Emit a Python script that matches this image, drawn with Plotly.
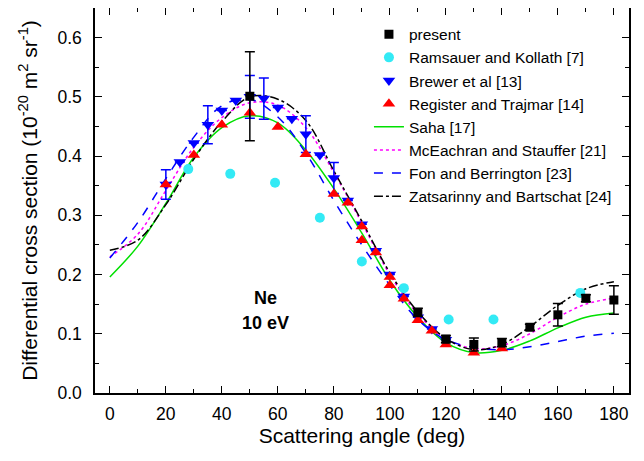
import plotly.graph_objects as go

# ---- data ----
present_x = [50, 110, 120, 130, 140, 150, 160, 170, 180]
present_y = [0.501, 0.136, 0.091, 0.082, 0.085, 0.111, 0.132, 0.160, 0.157]
present_err = [0.075, 0.007, 0.006, 0.011, 0.007, 0.005, 0.019, 0.006, 0.024]

ramsauer_x = [28, 43, 59, 75, 90, 105, 121, 137, 168]
ramsauer_y = [0.378, 0.370, 0.355, 0.296, 0.222, 0.177, 0.124, 0.124, 0.169]

brewer_x = [20, 25, 30, 35, 40, 45, 50, 55, 60, 65, 70, 75, 80, 85, 90, 95, 100, 105, 110, 115, 120]
brewer_y = [0.352, 0.390, 0.422, 0.453, 0.477, 0.494, 0.500, 0.497, 0.482, 0.463, 0.437,
            0.402, 0.363, 0.325, 0.285, 0.240, 0.200, 0.163, 0.128, 0.108, 0.090]
brewer_err = [0.025, None, None, 0.032, None, None, 0.036, 0.035, None, None, 0.031,
              None, 0.026, None, None, None, None, None, None, None, None]

register_x = [20, 30, 40, 50, 60, 70, 80, 85, 90, 90, 95, 100, 100, 105, 110, 115, 120, 130, 140]
register_y = [0.352, 0.402, 0.453, 0.473, 0.449, 0.403, 0.336, 0.321, 0.281, 0.258, 0.237,
              0.196, 0.182, 0.159, 0.123, 0.105, 0.082, 0.068, 0.075]

theory_x = [0, 10, 20, 30, 40, 50, 60, 70, 80, 90, 100, 110, 120, 130, 140, 150, 160, 170, 180]
saha_y = [0.196, 0.248, 0.320, 0.398, 0.448, 0.468, 0.456, 0.410, 0.345, 0.270, 0.190, 0.128,
          0.085, 0.068, 0.072, 0.088, 0.110, 0.128, 0.135]
mceachran_y = [0.230, 0.268, 0.342, 0.415, 0.465, 0.490, 0.486, 0.448, 0.372, 0.287, 0.200, 0.133,
               0.092, 0.075, 0.080, 0.100, 0.128, 0.150, 0.160]
fon_y = [0.228, 0.288, 0.362, 0.432, 0.485, 0.496, 0.466, 0.405, 0.325, 0.250, 0.182, 0.124,
         0.090, 0.077, 0.073, 0.078, 0.087, 0.096, 0.101]
zats_y = [0.241, 0.258, 0.318, 0.395, 0.458, 0.500, 0.496, 0.460, 0.375, 0.290, 0.203, 0.137,
          0.092, 0.073, 0.082, 0.112, 0.148, 0.176, 0.188]

FONT = "Liberation Sans, Arial, sans-serif"

fig = go.Figure()

fig.add_trace(go.Scatter(x=theory_x, y=saha_y, mode="lines", name="Saha [17]",
                         line=dict(color="#00E000", width=1.5, shape="spline")))
fig.add_trace(go.Scatter(x=theory_x, y=mceachran_y, mode="lines", name="McEachran and Stauffer [21]",
                         line=dict(color="#FF00FF", width=1.5, dash="dot", shape="spline")))
fig.add_trace(go.Scatter(x=theory_x, y=fon_y, mode="lines", name="Fon and Berrington [23]",
                         line=dict(color="#0000FF", width=1.5, dash="dash", shape="spline")))
fig.add_trace(go.Scatter(x=theory_x, y=zats_y, mode="lines", name="Zatsarinny and Bartschat [24]",
                         line=dict(color="black", width=1.5, dash="dashdot", shape="spline")))

fig.add_trace(go.Scatter(x=ramsauer_x, y=ramsauer_y, mode="markers", name="Ramsauer and Kollath [7]",
                         marker=dict(symbol="circle", size=10, color="#33EAF5")))
fig.add_trace(go.Scatter(x=brewer_x, y=brewer_y, mode="markers", name="Brewer et al [13]",
                         marker=dict(symbol="triangle-down", size=11, color="#0000FF"),
                         error_y=dict(type="data", array=brewer_err, color="#0000FF",
                                      thickness=1.5, width=5)))
fig.add_trace(go.Scatter(x=register_x, y=register_y, mode="markers", name="Register and Trajmar [14]",
                         marker=dict(symbol="triangle-up", size=11, color="#FF0000")))
fig.add_trace(go.Scatter(x=present_x, y=present_y, mode="markers", name="present",
                         marker=dict(symbol="square", size=9, color="black"),
                         error_y=dict(type="data", array=present_err, color="black",
                                      thickness=1.5, width=5)))

fig.add_annotation(x=55.5, y=0.161, text="<b>Ne</b>", showarrow=False,
                   font=dict(family=FONT, size=18, color="black"))
fig.add_annotation(x=55.5, y=0.118, text="<b>10 eV</b>", showarrow=False,
                   font=dict(family=FONT, size=18, color="black"))

axis_common = dict(showgrid=False, zeroline=False, showline=True, linecolor="black", linewidth=1.5,
                   mirror="ticks", ticks="inside", ticklen=7, tickwidth=1.3, tickcolor="black",
                   tickfont=dict(family=FONT, size=17.5, color="black"), automargin=False)

fig.update_xaxes(range=[-5.3, 185.4], tick0=0, dtick=20, ticklabelstandoff=4,
                 minor=dict(ticks="inside", ticklen=4, dtick=10, tick0=0, tickcolor="black", tickwidth=1.3),
                 title=dict(text="Scattering angle (deg)", font=dict(family=FONT, size=21, color="black"),
                            standoff=5),
                 **axis_common)
fig.update_yaxes(range=[0, 0.65], tick0=0, dtick=0.1, tickformat=".1f", ticklabelstandoff=8,
                 minor=dict(ticks="inside", ticklen=4, dtick=0.05, tick0=0, tickcolor="black", tickwidth=1.3),
                 title=dict(text="Differential cross section (10<sup>-20</sup> m<sup>2</sup> sr<sup>-1</sup>)",
                            font=dict(family=FONT, size=21, color="black"), standoff=14),
                 **axis_common)

order = ["present", "Ramsauer and Kollath [7]", "Brewer et al [13]", "Register and Trajmar [14]",
         "Saha [17]", "McEachran and Stauffer [21]", "Fon and Berrington [23]", "Zatsarinny and Bartschat [24]"]
for tr in fig.data:
    tr.legendrank = order.index(tr.name) + 1

fig.update_layout(
    width=644, height=461,
    margin=dict(l=87, r=23, t=0, b=76),
    paper_bgcolor="white", plot_bgcolor="white",
    font=dict(family=FONT, color="black"),
    legend=dict(x=0.513, y=0.975, xanchor="left", yanchor="top", bgcolor="rgba(0,0,0,0)",
                font=dict(family=FONT, size=15.5, color="black"), tracegroupgap=0,
                itemwidth=30),
    showlegend=True,
)

fig.write_html("out.html")
